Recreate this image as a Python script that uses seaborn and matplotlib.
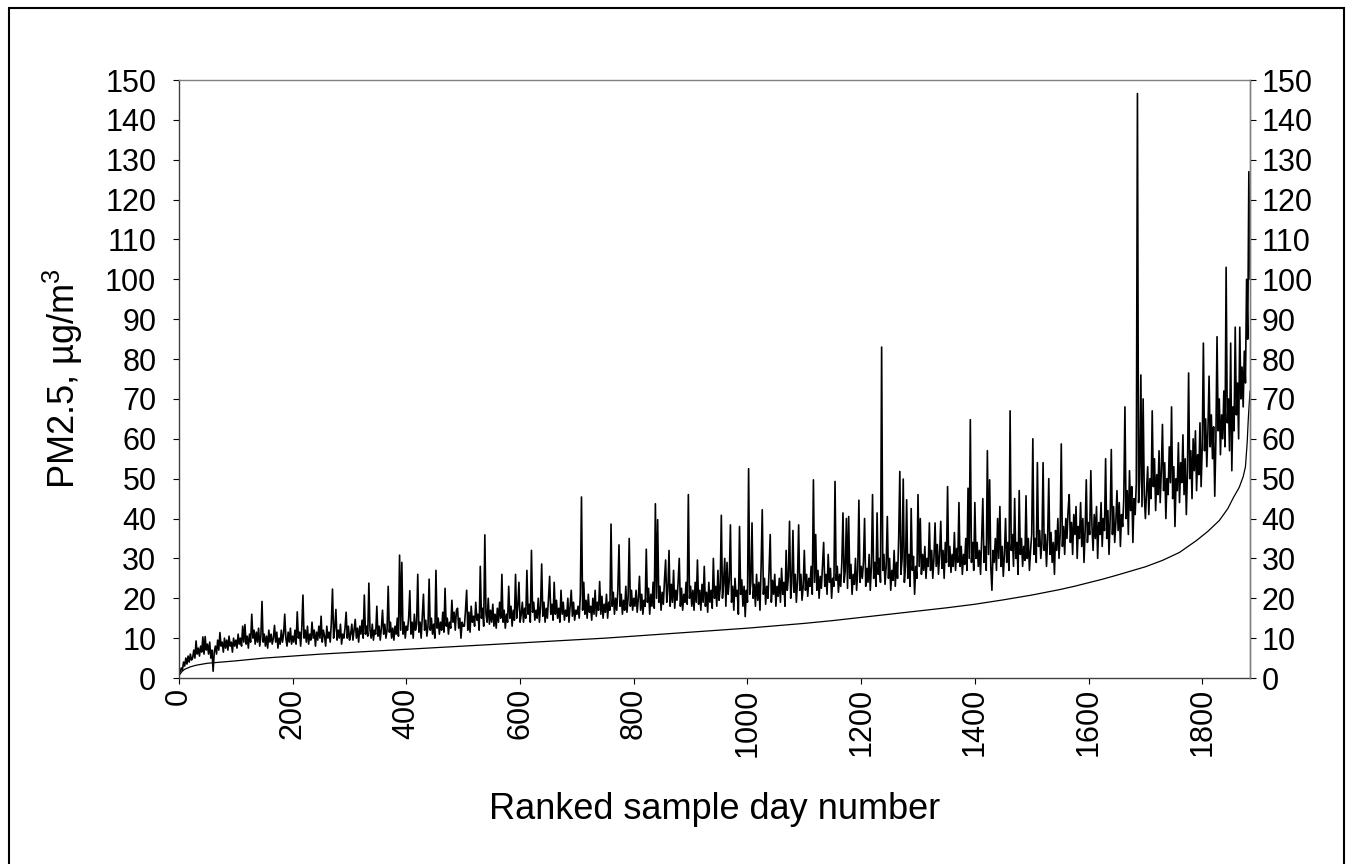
import numpy as np
import pandas as pd
import matplotlib
matplotlib.use("Agg")
import matplotlib.pyplot as plt
import seaborn as sns
from matplotlib.patches import Rectangle

# ---- data: PM2.5 (µg/m3) on ranked sample days, one value every 2nd day ----
pm_days_0002_0100 = [1.5, 2.5, 2, 4, 3, 5, 3.5, 5.5, 4, 6, 4.5, 5, 7, 5, 9.3, 6, 7.5, 5.5, 8, 6.5,
                     10.3, 6, 10.4, 7, 8.5, 6, 9, 5, 7, 1.7, 6.5, 8, 6, 9.5, 7, 11.4, 8, 9, 6.5, 10,
                     7.5, 9.5, 7, 10.5, 8, 9, 6.5, 10, 8, 9.5]
pm_days_0102_0200 = [7.5, 11, 8.5, 10, 8, 13, 9, 13.4, 8.5, 10.5, 7.5, 11, 9, 16, 10, 12, 8.5, 11.5, 9, 12.5,
                     8, 10.5, 19.2, 9, 11, 8, 10.5, 7.5, 12, 9, 11, 8.5, 10, 13.2, 9, 11.5, 7.5, 10, 8.5, 12,
                     9, 11, 16, 10, 8, 11.5, 9, 12.5, 8.5, 10.5]
pm_days_0202_0300 = [9, 12, 8.5, 16.6, 10, 11.5, 8, 12.5, 20.8, 10, 12, 9, 13, 8.5, 11, 9.5, 14, 10, 12, 8,
                     11.5, 9.5, 13, 10, 15.5, 9, 12, 10.5, 8, 13, 10, 11.5, 9, 14, 22.3, 10, 12.5, 17.2, 9.5, 12,
                     10, 13.5, 8.5, 11, 10, 12.5, 16.5, 10, 13, 9.5]
pm_days_0302_0400 = [11, 13.5, 9.5, 12, 14.7, 10, 12.5, 9, 13, 11, 14.5, 10, 20.8, 11, 13, 10.5, 23.8, 12, 10, 13.5,
                     9.5, 12, 11, 18, 10.5, 13, 9.5, 12.5, 17, 11, 13.5, 10, 12, 23, 11.5, 14, 10, 12.5, 9.5, 13,
                     11, 15, 10.5, 30.8, 12, 29, 11, 14, 10, 13]
pm_days_0402_0500 = [12, 15, 21.9, 11, 14, 10, 16, 12, 13.5, 26, 11.5, 14, 10, 15.5, 21, 12, 14.5, 10.5, 13, 24.8,
                     12, 15, 11, 13.5, 10, 27, 12.5, 15, 11, 14, 12, 16.5, 11.5, 22.5, 13, 15, 11, 14, 12.5, 19.5,
                     14, 16.5, 12, 17, 17.5, 12.5, 15, 10, 14, 13]
pm_days_0502_0600 = [13, 17, 22, 12, 16.5, 11.5, 18, 14, 15.5, 13, 19, 14.5, 16, 12, 28, 15, 17.5, 13, 35.9, 16,
                     14, 20, 13.5, 17, 14, 18.5, 13, 16, 12.5, 17.5, 14, 19, 15, 26, 14, 17, 12.5, 16, 14, 23,
                     15, 18, 13, 17, 14.5, 26, 15, 18, 24, 14]
pm_days_0602_0700 = [16, 19, 14, 17.5, 15, 27, 16, 18.5, 14, 32, 16.5, 19, 14.5, 17, 15, 20, 14, 18, 28.6, 15.5,
                     19, 14, 17.5, 15, 20, 25.5, 16, 18.5, 14.5, 24, 16, 19.5, 15, 17.5, 14, 22, 16, 19, 14.5, 17,
                     15.5, 20, 14, 18, 22, 15.5, 19, 14.5, 17, 16]
pm_days_0702_0800 = [18, 15, 21, 45.4, 17, 24, 16, 19.5, 15, 21, 16.5, 18, 14.5, 20, 16, 22, 15.5, 19, 17, 24.2,
                     16, 20.5, 15, 18.5, 16.5, 21, 15, 19, 17, 38.6, 18, 21.5, 16, 20, 17, 22, 33.4, 18, 21, 16,
                     19.5, 17, 23, 16.5, 20, 35, 18, 22, 17, 20]
pm_days_0802_0900 = [18, 22, 16.5, 20, 25.5, 17, 21, 16, 19.5, 18, 32.3, 19, 22.5, 16, 21, 18, 24, 17.5, 43.7, 20,
                     39.7, 19, 23, 17, 21.5, 18.5, 24.5, 29.6, 19, 22, 32, 18, 23.5, 19, 27, 17.5, 22, 19.5, 24, 30,
                     18, 22.5, 17, 21, 19, 24, 18.5, 46, 20, 23]
pm_days_0902_1000 = [18, 22, 17, 24, 19, 29.6, 18.5, 22, 17, 23.5, 19, 28, 18, 21.5, 16.5, 24, 19, 22, 17.5, 30,
                     20, 23, 18, 27, 19.5, 22.5, 40.8, 20, 24, 30, 18, 29, 21, 24.5, 38.4, 19, 23, 17, 25, 20.5,
                     22, 16, 38, 21, 24.6, 18, 23, 15.4, 22, 19]
pm_days_1002_1100 = [52.5, 21, 24, 38.9, 20, 23.5, 18, 26, 19.5, 24, 17, 28, 42.2, 21, 25, 18.5, 23, 20, 27, 36,
                     19, 24.5, 21, 26, 18, 23, 20.5, 25, 19, 27.5, 21, 24, 18, 32, 22, 25.5, 39.3, 20, 24, 37,
                     21.5, 26, 19, 24.5, 38.4, 22, 26, 19.5, 23, 32]
pm_days_1102_1200 = [22, 26, 20.5, 25, 23, 28, 21, 49.7, 24, 36, 22, 27, 20, 25.5, 22.5, 28, 34, 23, 26, 21,
                     31, 24, 27.5, 20, 25, 23, 49.3, 24.5, 28, 21.5, 26, 23, 29, 41.4, 24, 27, 40, 22.5, 40.5, 25,
                     28.5, 21, 26, 23.5, 30, 22, 27, 44.6, 24, 28]
pm_days_1202_1300 = [25, 29, 40, 23, 27.5, 24, 31, 22, 28, 46, 25, 29, 23, 41.4, 26, 30, 24, 83, 27, 31,
                     23.5, 28, 40.5, 25, 30, 22, 27, 24.5, 32, 23, 29, 25, 35, 51.8, 26, 30, 49.9, 24, 28.5, 44.7,
                     25, 31, 23, 42.5, 27, 30.5, 21, 28, 25, 46]
pm_days_1302_1400 = [28, 40, 26, 31, 27, 33, 25, 30, 28, 38.9, 27, 32, 25, 30, 38.9, 28, 33.5, 26, 31, 39.3,
                     27.5, 32, 25, 34, 29, 48, 28, 33, 26.5, 31, 28, 36.5, 27, 32.5, 29, 44, 28, 33, 26, 31,
                     28.5, 35, 27, 47.6, 30, 64.8, 29, 34, 27, 44]
pm_days_1402_1500 = [30, 34, 28, 32, 26, 35, 45, 29, 33, 27, 57, 31, 49.7, 28, 22, 32, 29, 35, 27, 40,
                     30, 43, 28, 33, 25.5, 31, 40, 29, 34, 27, 67, 32, 36, 28, 45, 30, 34, 26, 47, 31,
                     35, 28, 33, 29.5, 45.7, 30, 35, 27, 32, 36]
pm_days_1502_1600 = [60, 31, 35, 29, 54, 33, 37, 30, 34, 54, 32, 36, 28, 35, 50, 31, 36.5, 29, 34, 26,
                     37, 32, 40, 30, 36, 58.7, 33, 38, 31, 40, 35, 42, 46, 34, 39, 31, 41, 36, 43, 30,
                     38, 35, 44, 33, 40, 29, 37, 49.7, 34, 39]
pm_days_1602_1700 = [36, 52, 38, 32, 41, 35, 43, 30, 39, 36, 44, 33, 40, 37, 55, 35, 42, 31, 40, 57.3,
                     36, 43, 34, 39, 47, 37, 44, 33, 41, 38, 45, 68, 40, 47, 36, 52, 42, 48, 34, 45,
                     41, 49, 146.6, 44, 50, 76, 43, 70, 46, 40]
pm_days_1702_1800 = [47, 53, 41, 50, 45, 67, 48, 55, 42, 51, 46, 57, 44, 52, 63.6, 47, 54, 40, 50, 46,
                     58, 49, 68, 45, 53, 38, 50, 47, 59, 44, 54, 49, 61, 46, 55, 41, 52, 76.5, 50, 57,
                     45, 60, 52, 62, 47, 56, 51, 64, 48, 58]
pm_days_1802_1884 = [84, 57, 65, 53, 62, 75.7, 58, 66, 55, 63, 45.6, 60, 85.6, 62, 70, 56, 66, 60, 72, 58,
                     103, 64, 70, 57, 84, 52, 68, 62, 88, 66, 74, 60, 88, 70, 78, 68, 82, 74, 100, 85,
                     127, 100]

# ---- data: ranked (sorted) reference curve ----
rank_days = [1, 5, 10, 20, 30, 50, 75, 100, 150, 200, 250, 300, 350, 400, 450, 500, 550, 600, 650, 700,
             750, 800, 850, 900, 950, 1000, 1050, 1100, 1150, 1200, 1250, 1300, 1350, 1400, 1450, 1500,
             1525, 1550, 1575, 1600, 1625, 1650, 1700, 1730, 1760, 1790, 1810, 1830, 1845, 1855, 1865,
             1872, 1876, 1879, 1881, 1884]
rank_vals = [0.8, 1.6, 2.2, 2.8, 3.2, 3.7, 4.0, 4.3, 5.0, 5.5, 6.0, 6.4, 6.8, 7.2, 7.6, 8.0, 8.4, 8.8, 9.2, 9.6,
             10.0, 10.5, 11.0, 11.5, 12.0, 12.5, 13.1, 13.7, 14.4, 15.2, 16.0, 16.8, 17.6, 18.5, 19.6, 20.8,
             21.5, 22.2, 23.0, 23.9, 24.8, 25.8, 27.9, 29.5, 31.5, 34.5, 36.8, 39.5, 42.5, 45.3, 47.8,
             50.5, 53.0, 59.0, 65.0, 72.0]

x_ticks = [0, 200, 400, 600, 800, 1000, 1200, 1400, 1600, 1800]
y_ticks = [0, 10, 20, 30, 40, 50, 60, 70, 80, 90, 100, 110, 120, 130, 140, 150]
x_label = "Ranked sample day number"
y_label = "PM2.5, µg/m$^3$"
x_max = 1884
day_step = 2

segments = [pm_days_0002_0100, pm_days_0102_0200, pm_days_0202_0300, pm_days_0302_0400,
            pm_days_0402_0500, pm_days_0502_0600, pm_days_0602_0700, pm_days_0702_0800,
            pm_days_0802_0900, pm_days_0902_1000, pm_days_1002_1100, pm_days_1102_1200,
            pm_days_1202_1300, pm_days_1302_1400, pm_days_1402_1500, pm_days_1502_1600,
            pm_days_1602_1700, pm_days_1702_1800, pm_days_1802_1884]
pm_vals = np.concatenate([np.asarray(s, dtype=float) for s in segments])
pm_days = np.arange(1, len(pm_vals) + 1) * day_step

df_pm = pd.DataFrame({"day": pm_days, "pm": pm_vals})
df_rank = pd.DataFrame({"day": rank_days, "pm": rank_vals})

# ---- style ----
sns.set_style("ticks")
plt.rcParams["font.family"] = ["Liberation Sans", "DejaVu Sans"]
plt.rcParams["mathtext.fontset"] = "custom"
plt.rcParams["mathtext.rm"] = "Liberation Sans"
plt.rcParams["mathtext.default"] = "regular"

W, H = 1352, 864
fig = plt.figure(figsize=(W / 100, H / 100), dpi=100)
fig.patch.set_facecolor("white")

L, R, T, B = 179, 1250, 80, 678
ax = fig.add_axes([L / W, 1 - B / H, (R - L) / W, (B - T) / H])

sns.lineplot(data=df_pm, x="day", y="pm", ax=ax, color="black", linewidth=1.2, estimator=None)
sns.lineplot(data=df_rank, x="day", y="pm", ax=ax, color="black", linewidth=0.9, estimator=None)

ax.set_xlim(0, x_max)
ax.set_ylim(0, 150)
ax.set_xticks(x_ticks)
ax.set_xticklabels([str(t) for t in x_ticks], rotation=90, fontsize=22)
ax.set_yticks(y_ticks)
ax.set_yticklabels([str(t) for t in y_ticks], fontsize=22)
ax.tick_params(axis="y", direction="out", length=4.3, width=0.8, pad=12, colors="black")
ax.tick_params(axis="x", direction="out", length=4.3, width=0.8, pad=3, colors="black")

for side in ["left", "bottom"]:
    ax.spines[side].set_color("#404040")
    ax.spines[side].set_linewidth(1.0)
for side in ["top", "right"]:
    ax.spines[side].set_color("#808080")
    ax.spines[side].set_linewidth(1.0)

ax.set_xlabel(x_label, fontsize=26, color="black")
ax.set_ylabel(y_label, fontsize=26, color="black")
ax.xaxis.set_label_coords(0.5, -0.19)
ax.yaxis.set_label_coords(-0.088, 0.5)

ax2 = ax.twinx()
ax2.set_ylim(0, 150)
ax2.set_yticks(y_ticks)
ax2.set_yticklabels([str(t) for t in y_ticks], fontsize=22)
ax2.tick_params(axis="y", direction="out", length=4.3, width=0.8, pad=4, colors="black")
for side in ["left", "bottom", "top"]:
    ax2.spines[side].set_visible(False)
ax2.spines["right"].set_color("#808080")
ax2.spines["right"].set_linewidth(1.0)

# outer chart frame
fig.patches.append(Rectangle((9 / W, -0.02), (1344 - 9) / W, 1.02 - 8 / H,
                             transform=fig.transFigure, fill=False, edgecolor="black",
                             linewidth=1.5, zorder=10))

fig.savefig("out.png", dpi=100)
